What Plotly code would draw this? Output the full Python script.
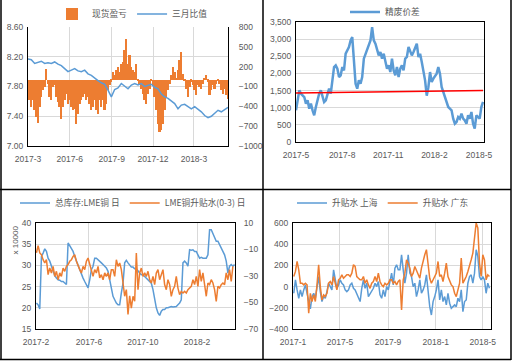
import plotly.graph_objects as go
import pandas as pd

# ---------------- Panel 1: 现货盈亏 (bars, right axis) / 三月比值 (line, left axis)
p1_pnl = [-232, -307, -408, -307, -459, -560, -650, -408, -257, -156, -106, 171, -55, -257, -307,
          -106, -80, -257, -333, -408, -585, -408, -307, -207, -358, -307, -408, -459, -433, -660,
          -509, -358, -307, -257, -207, -307, -257, -358, -459, -408, -307, -459, -509, -307, -408,
          -307, -459, -358, -156, -80, -30, 121, 71, 146, 197, 121, 247, 272, 449, 625,
          247, 373, 197, 146, 121, 247, -5, -55, -131, -207, -307, -358, -207, -131, -5,
          -80, -257, -459, -660, -786, -761, -660, -459, -257, -156, -55, 71, 197, 121, 20,
          146, 297, 423, 96, -5, -131, -257, -106, -30, -80, -156, -232, -80, -106, -131,
          -55, 20, 71, -30, -232, -156, -80, -131, -55, -5, -55, -156, -207, -131, -232, -282]
p1_ratio = [8.17, 8.16, 8.11, 8.13, 8.14, 8.11, 8.12, 8.11, 8.13, 8.10, 8.08, 8.04, 8.00, 8.02, 8.04,
            8.01, 8.00, 8.02, 7.97, 7.95, 7.91, 7.88, 7.85, 7.83, 7.75, 7.66, 7.76, 7.78, 7.84, 7.80,
            7.77, 7.82, 7.84, 7.82, 7.84, 7.80, 7.82, 7.83, 7.79, 7.77, 7.70, 7.66, 7.64, 7.61, 7.57,
            7.50, 7.55, 7.56, 7.53, 7.50, 7.53, 7.50, 7.46, 7.41, 7.38, 7.40, 7.44, 7.48, 7.46, 7.49, 7.52]
p1_pnl_dates = pd.date_range('2017-03-01', '2018-05-15', periods=len(p1_pnl))
p1_ratio_dates = pd.date_range('2017-03-01', '2018-05-15', periods=len(p1_ratio))
p1_ticks = ['2017-03-01', '2017-06-01', '2017-09-01', '2017-12-01', '2018-03-01']

# ---------------- Panel 2: 精废价差
p2_spread = [923, 1264, 1507, 1410, 1361, 1312, 1118, 1215, 972, 1118, 923, 778, 1021, 1215, 1410,
             1507, 1361, 1166, 1215, 1361, 1555, 1410, 1847, 2187, 2236, 2138, 1895, 1944, 2187, 2090,
             2576, 2673, 2770, 2965, 3062, 2381, 1701, 1555, 1798, 1701, 1895, 2430, 2576, 2722, 2868,
             2965, 3353, 2965, 2868, 2673, 2527, 2624, 2430, 2576, 2333, 2138, 2236, 2041, 2430, 2090,
             1944, 2187, 1895, 2138, 2236, 2090, 2430, 2479, 2770, 2673, 2527, 2624, 2722, 2868, 2479,
             2576, 2333, 2041, 1798, 1350, 1600, 2041, 1750, 1847, 1944, 1993, 2187, 1993, 1604, 1458,
             1312, 1215, 1021, 972, 923, 680, 535, 583, 729, 680, 826, 680, 632, 535, 778,
             680, 875, 535, 389, 778, 729, 680, 1021, 1166]
p2_dates = pd.date_range('2017-05-01', '2018-05-09', periods=len(p2_spread))
p2_trend = [1430, 1500]
p2_trend_dates = ['2017-05-01', '2018-05-09']
p2_ticks = ['2017-05-01', '2017-08-01', '2017-11-01', '2018-02-01', '2018-05-01']

# ---------------- Panel 3: 总库存:LME铜 日 (left) / LME铜升贴水(0-3) 日 (right)
p3_stock = [21.1, 20.7, 19.7, 32.1, 32.9, 33.9, 33.3, 31.7, 31.0, 29.8, 29.0, 27.6, 27.0, 26.6, 26.5,
            26.2, 26.2, 25.8, 25.5, 35.3, 34.5, 33.7, 33.3, 32.1, 31.0, 29.8, 29.0, 27.8, 27.0, 26.2,
            25.5, 24.7, 26.6, 29.0, 29.8, 31.7, 31.7, 31.4, 31.0, 30.6, 30.2, 29.8, 29.4, 28.6, 26.6,
            24.3, 22.7, 21.9, 21.1, 20.7, 20.7, 23.5, 25.8, 30.6, 31.2, 30.6, 30.2, 29.6, 29.6, 29.2,
            29.2, 28.6, 28.2, 27.8, 27.8, 27.4, 27.0, 26.6, 26.2, 25.8, 24.3, 21.9, 20.0, 18.8, 18.2,
            19.2, 19.6, 19.6, 20.0, 20.0, 20.2, 20.3, 20.2, 20.3, 20.3, 20.7, 21.1, 21.9, 30.6, 31.0,
            30.6, 29.8, 33.7, 33.6, 33.7, 33.3, 33.3, 32.5, 31.7, 31.9, 31.7, 31.7, 31.7, 32.5, 38.4,
            38.4, 37.6, 36.9, 35.7, 35.7, 34.9, 34.1, 33.3, 32.5, 31.0, 28.2, 29.8, 30.2, 29.8, 30.2]
p3_spread = [-12.6, -7.1, -12.6, -13.9, -17.7, -20.2, -17.7, -29.0, -24.0, -27.7, -22.7, -30.3, -26.5, -32.8, -27.7,
             -30.3, -24.0, -26.5, -22.7, -21.4, -18.9, -17.7, -15.2, -13.9, -18.9, -22.7, -25.2, -27.7, -22.7, -25.2,
             -18.9, -16.4, -21.4, -25.2, -30.3, -25.2, -27.7, -22.7, -31.5, -29.0, -32.8, -27.7, -30.3, -27.7, -32.8,
             -25.2, -25.2, -30.3, -17.7, -22.7, -20.2, -25.2, -36.5, -45.3, -40.3, -59.0, -45.0, -54.2, -45.3, -49.1,
             -12.6, -40.3, -27.7, -24.0, -30.3, -27.7, -30.3, -26.5, -32.8, -35.3, -30.3, -36.5, -27.7, -25.2, -32.8,
             -29.0, -25.2, -36.5, -40.3, -32.8, -36.5, -45.3, -40.3, -37.8, -30.3, -39.1, -44.1, -41.6, -42.8, -41.6,
             -42.8, -40.3, -39.1, -37.8, -32.8, -36.5, -30.3, -37.8, -25.2, -34.0, -27.7, -36.5, -45.3, -35.3, -36.5,
             -32.8, -35.3, -40.3, -49.1, -37.8, -39.1, -36.5, -35.3, -36.5, -27.7, -32.8, -25.2, -34.0, -22.7]
p3_dates = pd.date_range('2017-02-02', '2018-04-27', periods=len(p3_stock))
p3_ticks = ['2017-02-01', '2017-06-01', '2017-10-01', '2018-02-01']

# ---------------- Panel 4: 升贴水 上海 / 升贴水 广东
p4_sh = [-63, 64, -31, -110, -31, -94, -31, 16, -63, -141, -210, -94, -63, -110, 0,
         95, -47, -141, -94, -110, -47, 32, 0, -31, 158, 64, -16, 16, 64, 32,
         16, -31, -47, -31, 16, 32, -16, -31, -63, -110, -141, -16, 64, -16, 32,
         -94, -63, -47, -16, 32, 0, 48, -78, -110, -31, -94, 0, -31, 48, 127,
         16, 174, 206, 158, 158, 300, 158, 32, 127, 300, 127, 95, 0, 32, -94,
         -31, 64, -63, -31, 16, 111, -63, -189, -268, -141, -94, -31, 64, -126, -31,
         -141, -94, -173, -63, -157, -205, -189, -173, -189, -110, -141, -31, -236, -141, -126,
         32, 95, 111, 32, 127, 348, 285, 95, 64, 95, 64, -63, 32, -16]
p4_gd = [95, 143, 237, 158, 32, 32, 16, 32, 16, -252, -63, -141, -78, -141, 16,
         206, 0, -126, -78, -94, -63, 32, 48, 16, 95, 16, -31, 64, 79, 111,
         79, 95, 111, 111, 95, 127, 206, 190, 95, 79, 64, 64, 95, 32, 64,
         16, -16, 32, 48, 95, 48, 127, 48, 16, 0, 32, 16, 32, 64, 64,
         32, 48, 16, 48, 64, -220, 64, 127, 253, 222, 174, 95, 127, 190, 158,
         127, 79, 174, 253, 300, 348, 190, 79, 32, 64, 95, 127, 237, 95, 111,
         48, 127, 222, 95, 48, 16, 0, -63, -94, -31, 32, 269, 32, 64, 95,
         143, 190, 253, 316, 474, 600, 553, 222, 95, 300, 253, 64, 111, 95]
p4_dates = pd.date_range('2017-01-03', '2018-05-18', periods=len(p4_sh))
p4_ticks = ['2017-01-01', '2017-05-01', '2017-09-01', '2018-01-01', '2018-05-01']

BLUE = '#5B9BD5'
ORANGE = '#ED7D31'
GRID = '#D9D9D9'
TXT = '#595959'
TICKFONT = dict(family='Liberation Sans, Arial, sans-serif', size=8.5, color=TXT)
LEGFONT = dict(family='Noto Sans CJK SC, sans-serif', size=8.7, color=TXT)

W, H = 513, 362
def dx(a, b):
    return [a / W, b / W]
def dy(top, bottom):
    return [1 - bottom / H, 1 - top / H]

fig = go.Figure()

# Panel 1
fig.add_trace(go.Bar(x=p1_pnl_dates, y=p1_pnl, name='现货盈亏', width=3.75 * 86400000,
                     marker=dict(color=ORANGE, line=dict(width=0)),
                     xaxis='x', yaxis='y', legend='legend'))
fig.add_trace(go.Scatter(x=p1_ratio_dates, y=p1_ratio, name='三月比值', mode='lines',
                         line=dict(color=BLUE, width=1.5), xaxis='x', yaxis='y2', legend='legend'))
# Panel 2
fig.add_trace(go.Scatter(x=p2_dates, y=p2_spread, name='精废价差', mode='lines',
                         line=dict(color=BLUE, width=2.5), xaxis='x2', yaxis='y3', legend='legend2'))
fig.add_trace(go.Scatter(x=p2_trend_dates, y=p2_trend, mode='lines', showlegend=False,
                         line=dict(color='#FF0000', width=1.5), xaxis='x2', yaxis='y3'))
# Panel 3
fig.add_trace(go.Scatter(x=p3_dates, y=p3_stock, name='总库存:LME铜 日', mode='lines',
                         line=dict(color=BLUE, width=1.5), xaxis='x3', yaxis='y4', legend='legend3'))
fig.add_trace(go.Scatter(x=p3_dates, y=p3_spread, name='LME铜升贴水(0-3) 日', mode='lines',
                         line=dict(color=ORANGE, width=1.5), xaxis='x3', yaxis='y5', legend='legend3'))
# Panel 4
fig.add_trace(go.Scatter(x=p4_dates, y=p4_sh, name='升贴水 上海', mode='lines',
                         line=dict(color=BLUE, width=1.5), xaxis='x4', yaxis='y6', legend='legend4'))
fig.add_trace(go.Scatter(x=p4_dates, y=p4_gd, name='升贴水 广东', mode='lines',
                         line=dict(color=ORANGE, width=1.5), xaxis='x4', yaxis='y6', legend='legend4'))

def xax(domain, anchor, rng, ticks, grid=True, mirror=False):
    return dict(domain=domain, anchor=anchor, range=rng, tickvals=ticks, tickformat='%Y-%-m',
                showgrid=grid, gridcolor=GRID, gridwidth=1, showline=True, linecolor='#000000',
                linewidth=1, mirror=mirror, ticks='', tickfont=TICKFONT, zeroline=False,
                automargin=False, ticklabelstandoff=5, type='date')

def yax(domain, anchor, rng, tick0, dtick, side='left', overlaying=None, grid=True, fmt=None,
        mirror=False, standoff=2):
    d = dict(domain=domain, anchor=anchor, range=rng, tick0=tick0, dtick=dtick, side=side,
             showgrid=grid, gridcolor=GRID, gridwidth=1, showline=True, linecolor='#000000',
             linewidth=1, ticks='', tickfont=TICKFONT, zeroline=False, mirror=mirror,
             automargin=False, ticklabelstandoff=standoff)
    if overlaying:
        d['overlaying'] = overlaying
    if fmt:
        d['tickformat'] = fmt
    return d

d1x, d1y = dx(28, 228), dy(27, 146)
d2x, d2y = dx(296, 484), dy(22, 142)
d3x, d3y = dx(36, 235), dy(223, 329)
d4x, d4y = dx(293, 491), dy(223, 329)

leg = lambda x, y: dict(orientation='h', x=x / W, y=1 - y / H, xanchor='left', yanchor='middle',
                        font=LEGFONT, bgcolor='rgba(0,0,0,0)', itemwidth=30)

layout = dict(
    template='none',
    width=W, height=H, margin=dict(l=0, r=0, t=0, b=0, autoexpand=False),
    font=dict(family='Liberation Sans, Arial, sans-serif', size=9, color=TXT),
    paper_bgcolor='white', plot_bgcolor='white', bargap=0,
    xaxis=xax(d1x, 'y', ['2017-03-01', '2018-05-15'], p1_ticks),
    yaxis=yax(d1y, 'x', [-1000, 800], -1000, 300, side='right', grid=False, standoff=8),
    yaxis2=yax(d1y, 'x', [7.0, 8.6], 7.0, 0.4, side='left', overlaying='y', grid=True, fmt='.2f'),
    xaxis2=xax(d2x, 'y3', ['2017-05-01', '2018-05-11'], p2_ticks, grid=False, mirror=True),
    yaxis3=yax(d2y, 'x2', [0, 3500], 0, 500, fmt=',d', mirror=True),
    xaxis3=xax(d3x, 'y4', ['2017-02-01', '2018-04-28'], p3_ticks, mirror=True),
    yaxis4=yax(d3y, 'x3', [15, 40], 15, 5),
    yaxis5=yax(d3y, 'x3', [-70, 10], -70, 20, side='right', overlaying='y4', grid=False, standoff=6),
    xaxis4=xax(d4x, 'y6', ['2017-01-01', '2018-05-22'], p4_ticks, mirror=True),
    yaxis6=yax(d4y, 'x4', [-400, 600], -400, 200, mirror=True),
    legend=leg(52, 14),
    legend2=leg(345, 12),
    legend3=leg(15, 203),
    legend4=leg(292, 203),
    showlegend=True,
)
fig.update_layout(**layout)

fig.add_annotation(text='x 10000', x=8 / W, y=1 - 240 / H, xref='paper', yref='paper', textangle=-90,
                   showarrow=False, font=dict(family='Liberation Sans, Arial, sans-serif', size=8, color=TXT))

# panel borders / dividers
border = dict(color='#000000', width=1.5)
for (x0, y0, x1, y1) in [(1, 0, 1, 360), (263, 0, 263, 360), (0, 189.5, 511, 189.5),
                         (0, 359.5, 511, 359.5), (511, 0, 511, 360)]:
    fig.add_shape(type='line', xref='paper', yref='paper', x0=x0 / W, x1=x1 / W,
                  y0=1 - y0 / H, y1=1 - y1 / H, line=border)

fig.write_html('out.html', config={'displayModeBar': False},
               post_script="document.body.style.margin='0';document.body.style.padding='0';")
